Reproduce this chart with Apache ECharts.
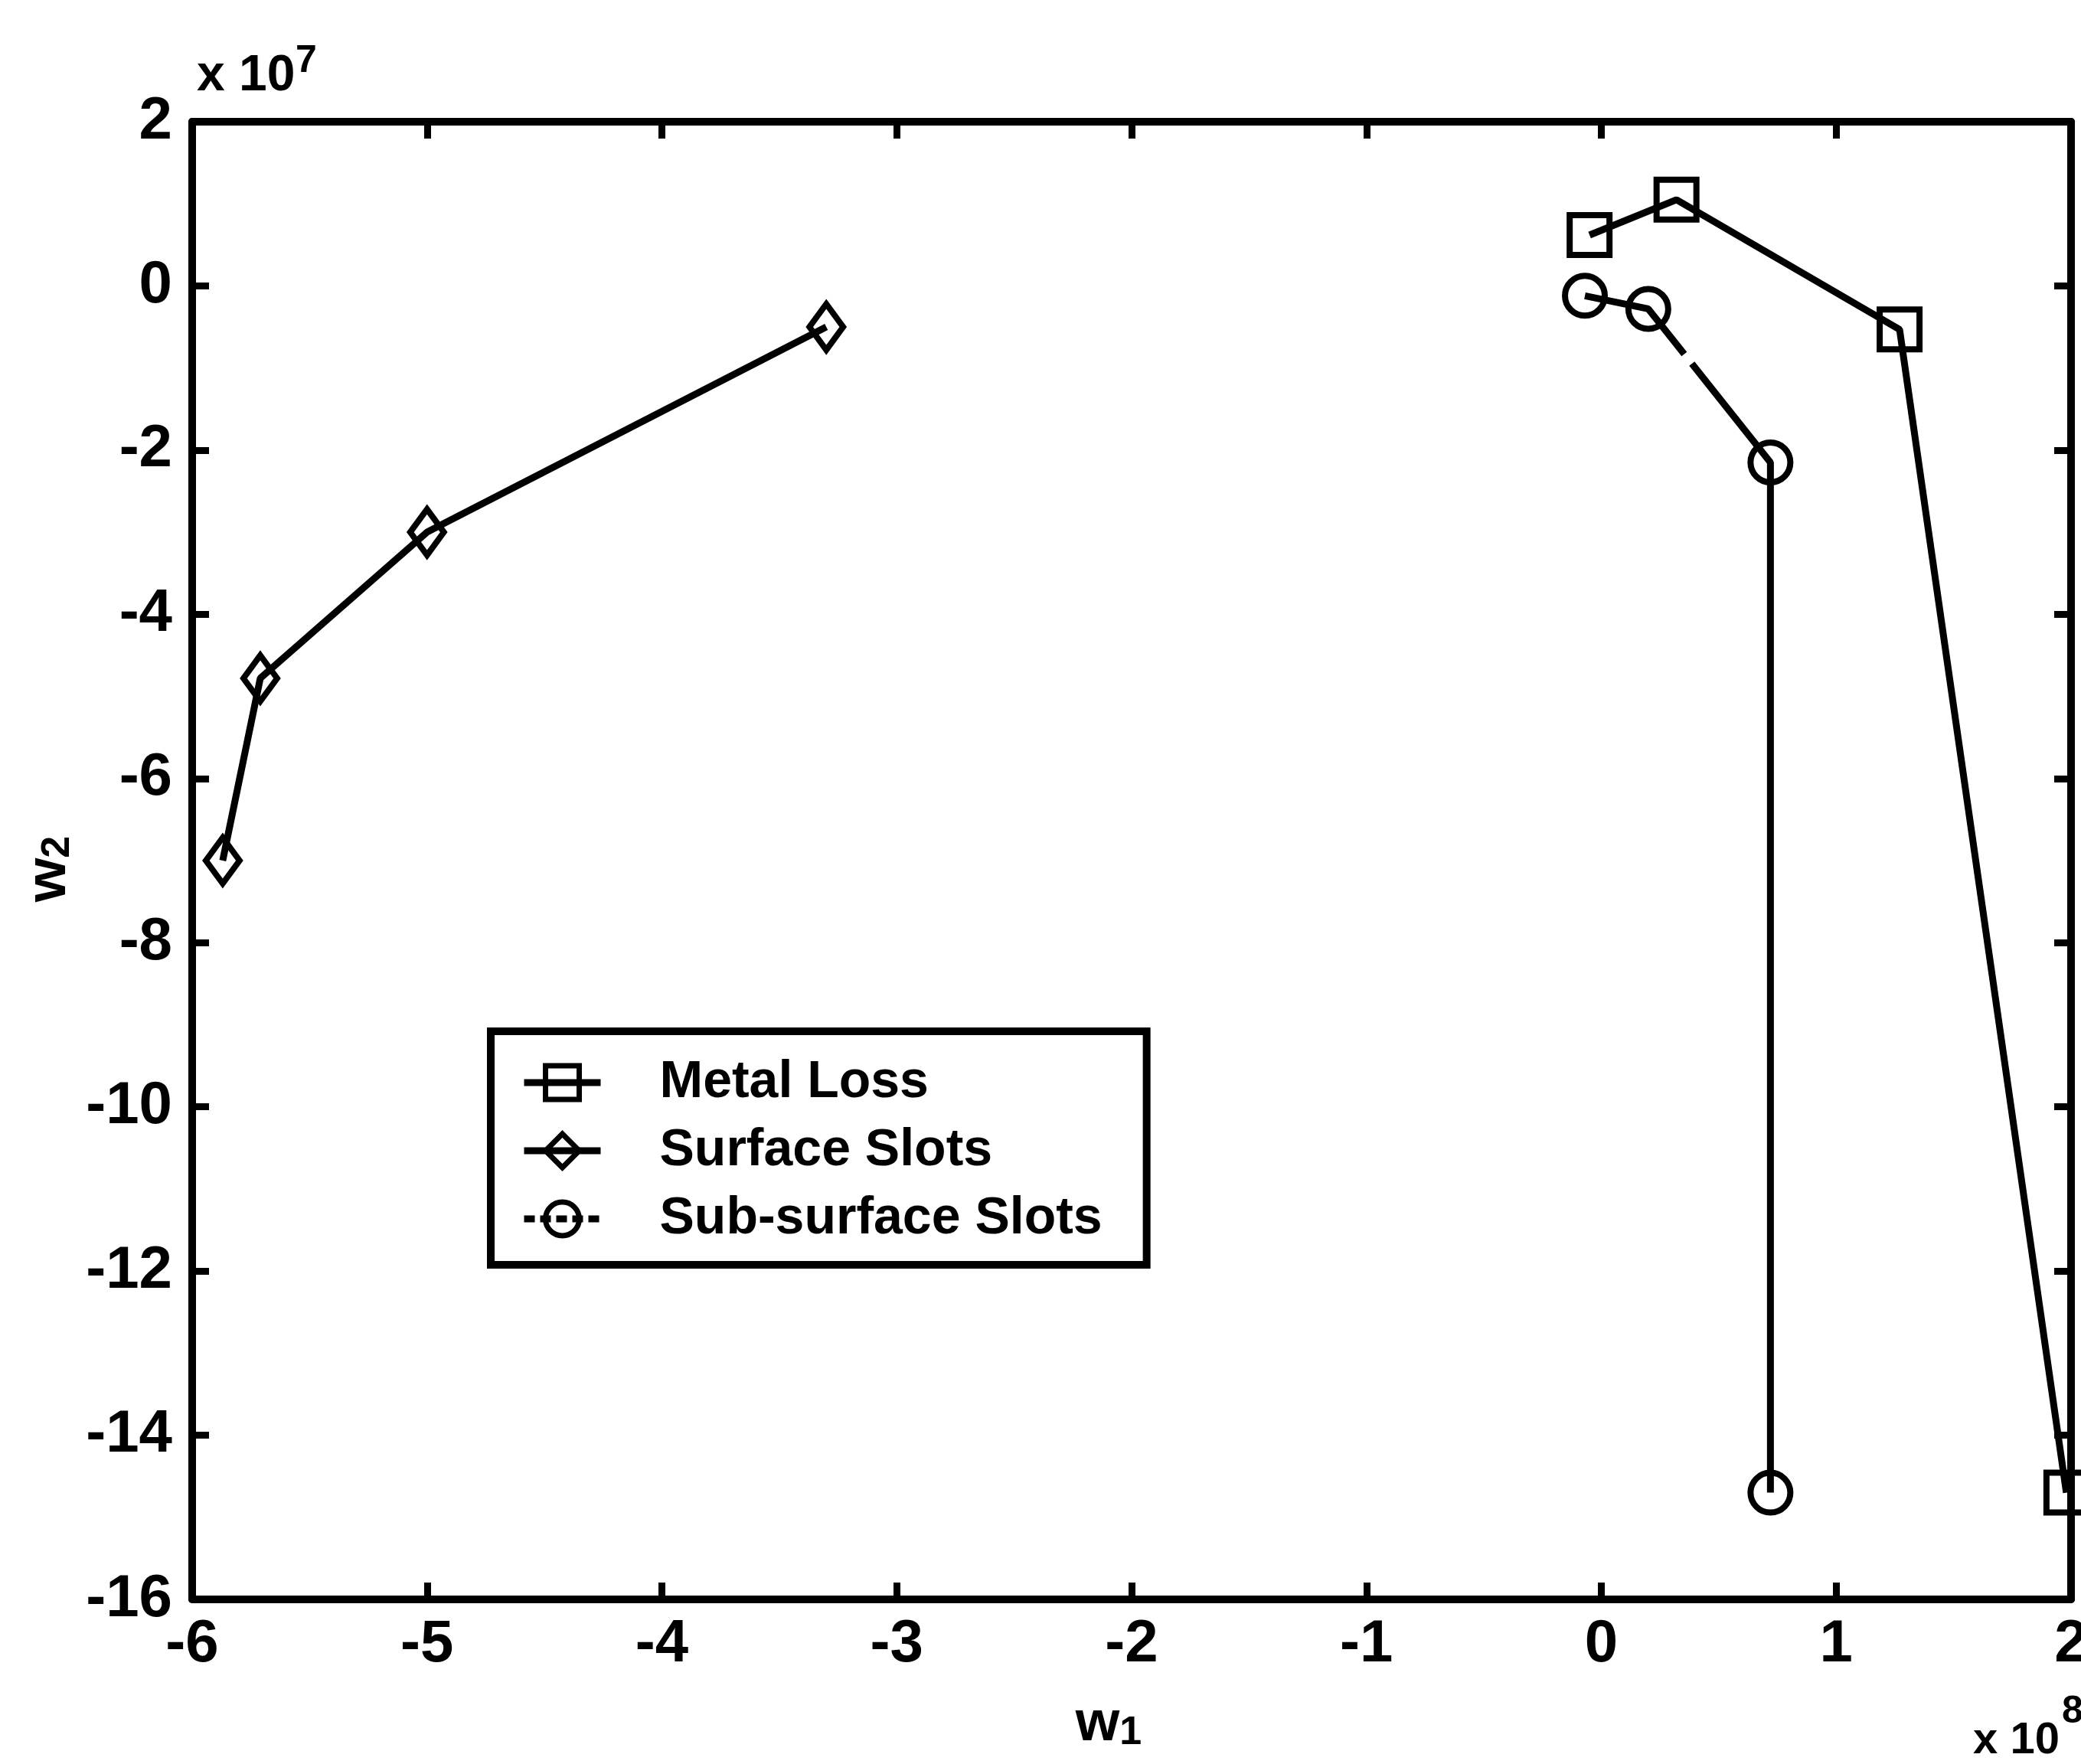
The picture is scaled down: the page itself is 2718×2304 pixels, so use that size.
<!DOCTYPE html>
<html><head><meta charset="utf-8">
<script src="https://cdn.jsdelivr.net/npm/echarts@6/dist/echarts.min.js"></script>
<style>html,body{margin:0;padding:0;background:#fff}#c{width:2718px;height:2304px}</style>
</head><body><div id="c"></div>
<script>
// ---- data (real units) ----
const seriesNames = ['Metal Loss', 'Surface Slots', 'Sub-surface Slots'];
const metalLossW1 = [-0.05e8, 0.32e8, 1.27e8, 1.98e8];
const metalLossW2 = [0.62e7, 1.05e7, -0.53e7, -14.7e7];
const surfaceSlotsW1 = [-5.87e8, -5.71e8, -5.00e8, -3.30e8];
const surfaceSlotsW2 = [-7.0e7, -4.78e7, -3.0e7, -0.5e7];
const subSurfaceW1 = [-0.07e8, 0.20e8, 0.72e8, 0.72e8];
const subSurfaceW2 = [-0.12e7, -0.28e7, -2.15e7, -14.7e7];
const xRange = [-6e8, 2e8], xStep = 1e8, xScale = 1e8;
const yRange = [-16e7, 2e7], yStep = 2e7, yScale = 1e7;
const xExponent = ['x 10', '8'];
const yExponent = ['x 10', '7'];
const xName = ['w', '1'];
const yName = ['w', '2'];

const FF = "'Liberation Sans',Arial,sans-serif";
function pts(xs, ys) { return xs.map((x, i) => [x, ys[i]]); }
const nameRich = {
  a: {fontSize: 74, fontWeight: 'bold', fontFamily: FF, color: '#000', lineHeight: 74, verticalAlign: 'top'},
  b: {fontSize: 52, fontWeight: 'bold', fontFamily: FF, color: '#000', lineHeight: 52, verticalAlign: 'bottom', padding: [46, 0, 0, 0]}
};
const axisLine = {show: true, onZero: false, lineStyle: {color: '#000', width: 10}};
const axisTick = {show: true, inside: true, length: 22, lineStyle: {color: '#000', width: 9}};
const labelStyle = {fontSize: 78, fontWeight: 'bold', fontFamily: FF, color: '#000'};

function mkSeries(name, xs, ys, symbol, size, dash) {
  return {
    name, type: 'line', data: pts(xs, ys), symbol, symbolSize: size, showSymbol: true,
    lineStyle: {color: '#000', width: 9, type: dash || 'solid'},
    itemStyle: {color: 'rgba(255,255,255,0)', borderColor: '#000', borderWidth: 8},
    emphasis: {disabled: true}, animation: false, z: 3
  };
}

const chart = echarts.init(document.getElementById('c'), null, {renderer: 'canvas'});
chart.setOption({
  animation: false,
  backgroundColor: '#fff',
  grid: {left: 251, right: 13, top: 159, bottom: 215, containLabel: false, outerBoundsMode: 'none'},
  xAxis: [
    {type: 'value', position: 'bottom', min: xRange[0], max: xRange[1], interval: xStep,
     axisLine, axisTick, splitLine: {show: false},
     axisLabel: Object.assign({margin: 20, showMinLabel: true, showMaxLabel: true,
       formatter: v => String(Math.round(v / xScale))}, labelStyle),
     name: '{a|' + xName[0] + '}{b|' + xName[1] + '}', nameLocation: 'middle', nameGap: 108,
     nameTextStyle: {rich: nameRich, padding: [0, 60, 0, 0]}},
    {type: 'value', position: 'top', min: xRange[0], max: xRange[1], interval: xStep,
     axisLine, axisTick, splitLine: {show: false}, axisLabel: {show: false}}
  ],
  yAxis: [
    {type: 'value', position: 'left', min: yRange[0], max: yRange[1], interval: yStep,
     axisLine, axisTick, splitLine: {show: false},
     axisLabel: Object.assign({margin: 26, showMinLabel: true, showMaxLabel: true,
       formatter: v => String(Math.round(v / yScale))}, labelStyle),
     name: '{a|' + yName[0] + '}{b|' + yName[1] + '}', nameLocation: 'middle', nameGap: 104, nameRotate: 90,
     nameTextStyle: {rich: nameRich, padding: [0, 22, 0, 0]}},
    {type: 'value', position: 'right', min: yRange[0], max: yRange[1], interval: yStep,
     axisLine, axisTick, splitLine: {show: false}, axisLabel: {show: false}}
  ],
  legend: {
    orient: 'vertical', left: 641, top: 1347, selectedMode: false,
    data: [
      {name: seriesNames[0]},
      {name: seriesNames[1]},
      {name: seriesNames[2], lineStyle: {type: [14, 7]}}
    ],
    itemWidth: 100, itemHeight: 55, itemGap: 21,
    padding: [33, 58, 26, 39],
    borderColor: '#000', borderWidth: 10, backgroundColor: '#fff',
    lineStyle: {color: '#000', width: 9},
    itemStyle: {color: 'rgba(255,255,255,0)', borderColor: '#000', borderWidth: 7},
    textStyle: {fontSize: 68, fontWeight: 'bold', fontFamily: FF, color: '#000', lineHeight: 55, padding: [0, 0, 0, 72]}
  },
  graphic: [
    {type: 'text', x: 257, y: 100, style: {text: yExponent[0], fontSize: 66, fontWeight: 'bold', fontFamily: FF, fill: '#000', align: 'left', verticalAlign: 'middle'}},
    {type: 'text', x: 386, y: 80, style: {text: yExponent[1], fontSize: 50, fontWeight: 'bold', fontFamily: FF, fill: '#000', align: 'left', verticalAlign: 'middle'}},
    {type: 'text', x: 2690, y: 2274, style: {text: xExponent[0], fontSize: 58, fontWeight: 'bold', fontFamily: FF, fill: '#000', align: 'right', verticalAlign: 'middle'}},
    {type: 'text', x: 2693, y: 2236, style: {text: xExponent[1], fontSize: 50, fontWeight: 'bold', fontFamily: FF, fill: '#000', align: 'left', verticalAlign: 'middle'}}
  ],
  series: [
    mkSeries(seriesNames[0], metalLossW1, metalLossW2, 'rect', 52),
    mkSeries(seriesNames[1], surfaceSlotsW1, surfaceSlotsW2, 'diamond', [44, 60]),
    mkSeries(seriesNames[2], subSurfaceW1, subSurfaceW2, 'circle', 52, [160, 16, 3000, 16])
  ]
});
</script>
</body></html>
